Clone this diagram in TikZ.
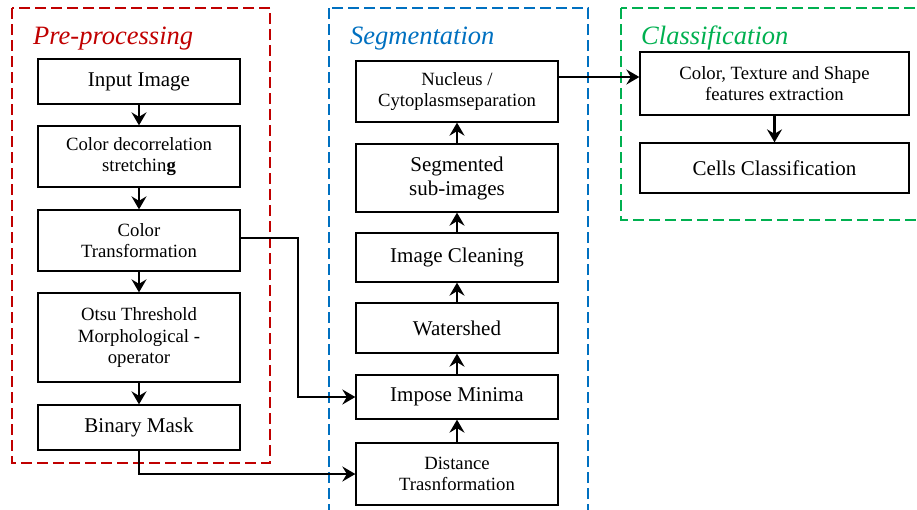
\documentclass[tikz,border=0pt]{standalone}
\usepackage{fontspec}
\setmainfont{Liberation Serif}
\usetikzlibrary{arrows.meta,calc}
\definecolor{ppred}{HTML}{C00000}
\definecolor{sgblue}{HTML}{0070C0}
\definecolor{clgreen}{HTML}{00B050}
\tikzset{
  box/.style={draw=black, line width=1.3pt, inner sep=0pt, align=center, fill=white},
  wbox/.style={box, minimum width=202pt},
  cbox/.style={box, minimum width=269pt},
  big/.style={font=\fontsize{21}{24}\selectfont},
  small/.style={font=\fontsize{18.7}{21.5}\selectfont},
  region/.style={line width=1.8pt, dash pattern=on 11pt off 5pt},
  title/.style={anchor=base west, inner sep=0pt, font=\fontsize{26.5}{30}\selectfont\itshape},
  conn/.style={line width=2.5pt, -{Stealth[length=13pt,width=15pt,inset=4.5pt]}},
}
\begin{document}
\begin{tikzpicture}[x=1pt,y=-1pt]
\useasboundingbox (0,0) rectangle (917,509);
\clip (0,0) rectangle (917,509);
% regions
\draw[region, draw=ppred] (12,8) rectangle (270,463);
\draw[region, draw=sgblue] (329,8) rectangle (588,540);
\draw[region, draw=clgreen] (621,8) rectangle (940,220);
\node[title, text=ppred] (tpp) at (33,44) {Pre-processing};
\node[title, text=sgblue] (tsg) at (350,44) {Segmentation};
\node[title, text=clgreen] (tcl) at (641,44) {Classification};
% pre-processing column
\node[wbox, big, minimum height=45pt] (in) at (139,81.5) {Input Image};
\node[wbox, small, minimum height=61pt] (cd) at (139,156.5) {Color decorrelation\\stretchin\textbf{g}};
\node[wbox, small, minimum height=61pt] (ct) at (139,240.5) {Color\\Transformation};
\node[wbox, small, minimum height=89pt] (ot) at (139,337.5) {Otsu Threshold\\Morphological -\\operator};
\node[wbox, big, minimum height=45pt] (bm) at (139,427.5) {Binary Mask};
% segmentation column
\node[wbox, small, minimum height=61pt] (nu) at (457,91.5) {Nucleus /\\Cytoplasmseparation};
\node[wbox, big, minimum height=68pt] (sg) at (457,178) {Segmented\\sub-images};
\node[wbox, big, minimum height=49pt] (cl) at (457,257.5) {Image Cleaning};
\node[wbox, big, minimum height=50pt] (ws) at (457,328) {Watershed};
\node[wbox, big, minimum height=44pt] (im) at (457,397) {Impose Minima};
\node[wbox, small, minimum height=62pt] (dt) at (457,474) {Distance\\Trasnformation};
% classification column
\node[cbox, small, minimum height=63pt] (fe) at (774.5,83.5) {Color, Texture and Shape\\features extraction};
\node[cbox, big, minimum height=50pt] (cc) at (774.5,168) {Cells Classification};
% arrows
\draw[conn] (in) -- (cd);
\draw[conn] (cd) -- (ct);
\draw[conn] (ct) -- (ot);
\draw[conn] (ot) -- (bm);
\draw[conn] (dt) -- (im);
\draw[conn] (im) -- (ws);
\draw[conn] (ws) -- (cl);
\draw[conn] (cl) -- (sg);
\draw[conn] (sg) -- (nu);
\draw[conn] (fe) -- (cc);
\coordinate (k1) at (0,77);
\coordinate (k2) at (298,238);
\draw[conn] (nu.east |- k1) -- (fe.west |- k1);
\draw[conn] (ct.east |- k2) -- (k2) |- (im.west);
\draw[conn] (bm.south) |- (dt.west);
\end{tikzpicture}
\end{document}
